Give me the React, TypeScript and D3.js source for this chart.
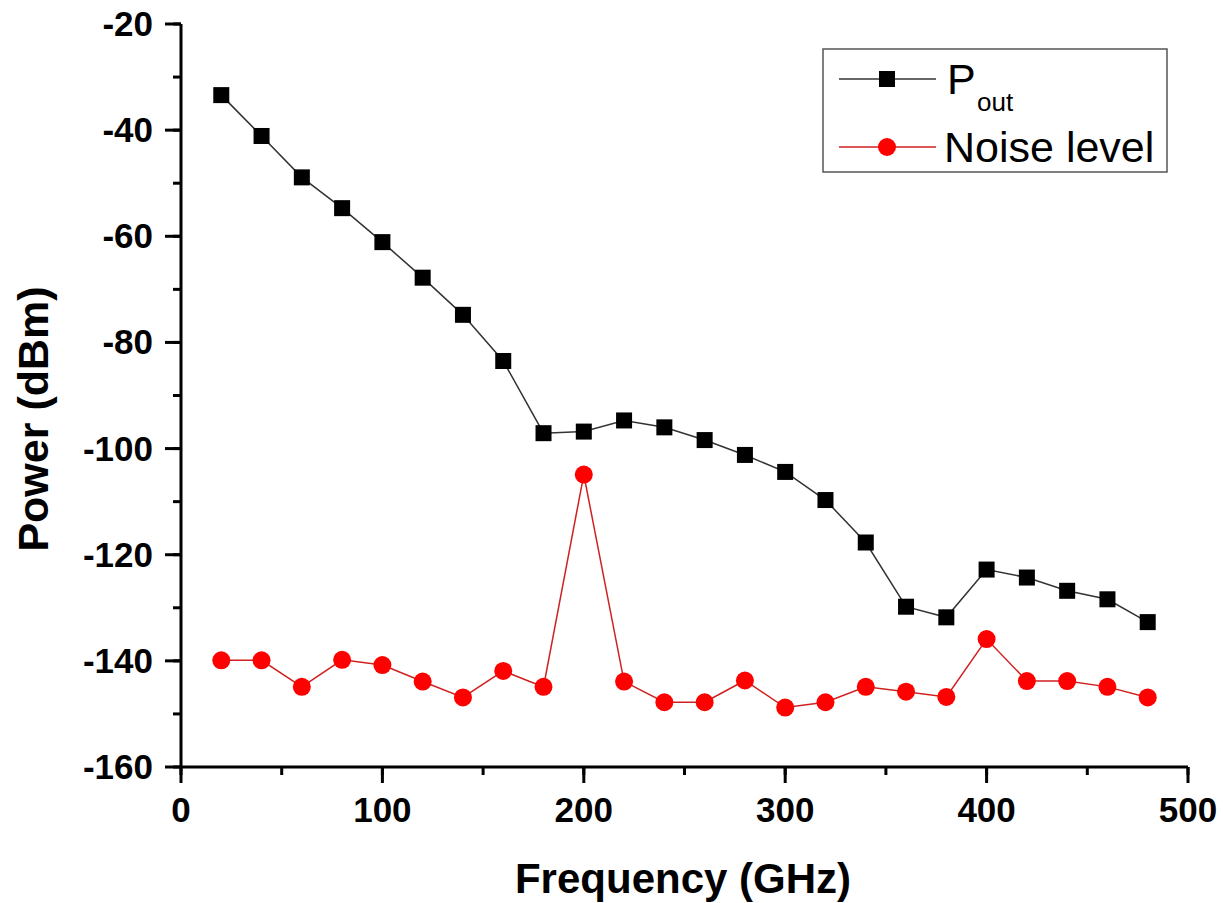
import React from "react";
import * as d3 from "d3";

const frequencies = [20, 40, 60, 80, 100, 120, 140, 160, 180, 200, 220, 240, 260, 280, 300, 320, 340, 360, 380, 400, 420, 440, 460, 480];
const poutValues = [-33.4, -41.1, -48.9, -54.7, -61.1, -67.8, -74.8, -83.5, -97.1, -96.8, -94.7, -96.0, -98.4, -101.2, -104.4, -109.7, -117.7, -129.8, -131.8, -122.8, -124.3, -126.8, -128.4, -132.7];
const noiseValues = [-139.9, -139.9, -144.9, -139.8, -140.8, -143.9, -146.9, -141.9, -144.9, -104.9, -143.9, -147.8, -147.8, -143.7, -148.8, -147.8, -144.9, -145.8, -146.8, -135.9, -143.8, -143.8, -144.9, -146.9];
const xTicks = [0, 100, 200, 300, 400, 500];
const yTicks = [-160, -140, -120, -100, -80, -60, -40, -20];

const FONT = "'Liberation Sans', Arial, Helvetica, sans-serif";

export default function App() {
  const W = 1223, H = 903;
  const x = d3.scaleLinear().domain([0, 500]).range([181, 1188]);
  const y = d3.scaleLinear().domain([-160, -20]).range([767, 24]);
  const xMinor = d3.range(0, 501, 50);
  const yMinor = d3.range(-160, -19, 10);
  const line = d3.line<[number, number]>().x(d => x(d[0])).y(d => y(d[1]));
  const pout: [number, number][] = frequencies.map((f, i) => [f, poutValues[i]]);
  const noise: [number, number][] = frequencies.map((f, i) => [f, noiseValues[i]]);
  const sq = 16;
  return (
    <svg width={W} height={H} style={{ position: "absolute", left: 0, top: 0, background: "#fff" }} fontFamily={FONT}>
      <rect x={0} y={0} width={W} height={H} fill="#fff" />
      {xMinor.map(t => (
        <line key={"xm" + t} x1={x(t)} x2={x(t)} y1={767} y2={775} stroke="#000" strokeWidth={3} />
      ))}
      {yMinor.map(t => (
        <line key={"ym" + t} x1={173} x2={181} y1={y(t)} y2={y(t)} stroke="#000" strokeWidth={3} />
      ))}
      {xTicks.map(t => (
        <g key={"xt" + t}>
          <line x1={x(t)} x2={x(t)} y1={767} y2={783} stroke="#000" strokeWidth={3} />
          <text x={x(t)} y={822} textAnchor="middle" fontSize={35} fontWeight="bold">{t}</text>
        </g>
      ))}
      {yTicks.map(t => (
        <g key={"yt" + t}>
          <line x1={165} x2={181} y1={y(t)} y2={y(t)} stroke="#000" strokeWidth={3} />
          <text x={153} y={y(t) + 12} textAnchor="end" fontSize={35} fontWeight="bold">{t}</text>
        </g>
      ))}
      <line x1={181} x2={181} y1={24} y2={767} stroke="#000" strokeWidth={3} />
      <line x1={181} x2={1188} y1={767} y2={767} stroke="#000" strokeWidth={3} />
      <path d={line(pout) || ""} fill="none" stroke="#333" strokeWidth={1.5} />
      <path d={line(noise) || ""} fill="none" stroke="#d02020" strokeWidth={1.5} />
      {pout.map((d, i) => (
        <rect key={"p" + i} x={x(d[0]) - sq / 2} y={y(d[1]) - sq / 2} width={sq} height={sq} fill="#000" />
      ))}
      {noise.map((d, i) => (
        <circle key={"n" + i} cx={x(d[0])} cy={y(d[1])} r={9} fill="#ff0000" />
      ))}
      <text x={683} y={893} textAnchor="middle" fontSize={42} fontWeight="bold">Frequency (GHz)</text>
      <text transform="translate(48,419) rotate(-90)" textAnchor="middle" fontSize={43} fontWeight="bold">Power (dBm)</text>
      <rect x={823} y={49} width={344} height={123} fill="#fff" stroke="#555" strokeWidth={1.5} />
      <line x1={839} x2={936} y1={79} y2={79} stroke="#333" strokeWidth={1.5} />
      <rect x={887 - sq / 2} y={79 - sq / 2} width={sq} height={sq} fill="#000" />
      <text x={947} y={94} fontSize={43}>P</text>
      <text x={977} y={111} fontSize={26}>out</text>
      <line x1={839} x2={936} y1={147} y2={147} stroke="#d02020" strokeWidth={1.5} />
      <circle cx={887} cy={147} r={9} fill="#ff0000" />
      <text x={944} y={162} fontSize={43}>Noise level</text>
    </svg>
  );
}
